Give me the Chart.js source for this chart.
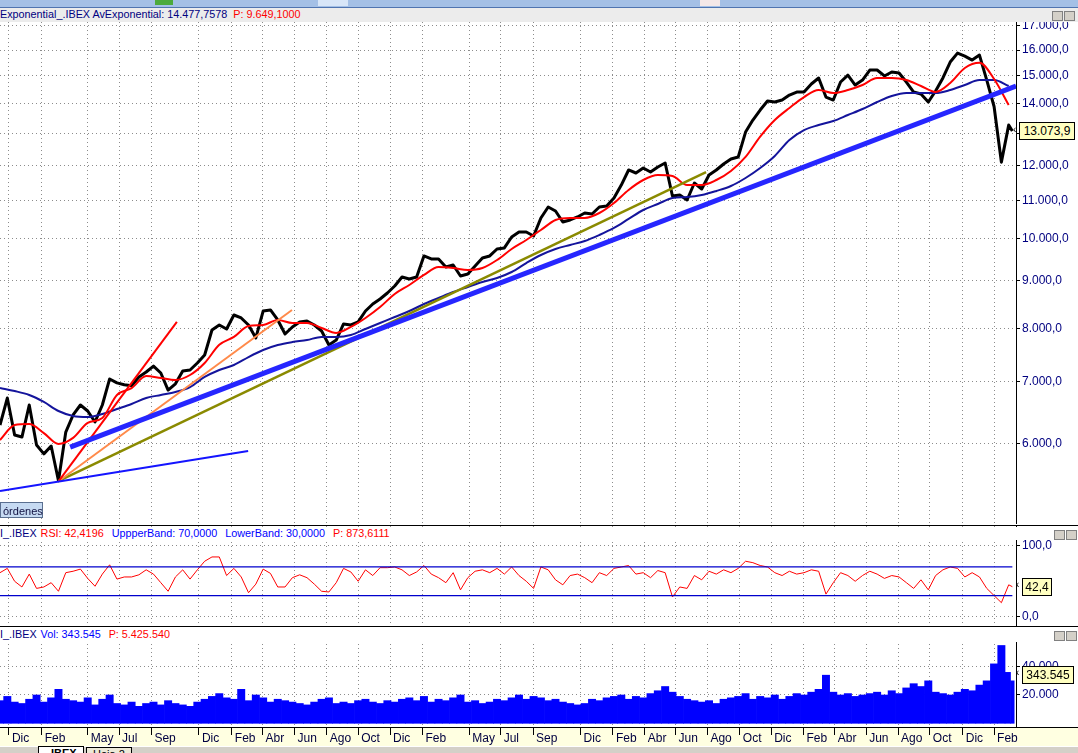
<!DOCTYPE html>
<html>
<head>
<meta charset="utf-8">
<script src="https://cdn.jsdelivr.net/npm/chart.js@4.4.1/dist/chart.umd.min.js"></script>
<style>
  body { margin: 0; width: 1078px; height: 753px; overflow: hidden; background: #fff; position: relative;
         font-family: "Liberation Sans", Arial, sans-serif; }
  .abs { position: absolute; }
  canvas { position: absolute; left: 0; }
  .hdr { position: absolute; left: 0; width: 1078px; font-size: 10.8px; white-space: nowrap; line-height: 13px; }
  .hdr span { margin-right: 6px; }
  .navy { color: #000080; } .red { color: #ff0000; } .blue { color: #0000ff; }
  .badge { position: absolute; background: #ffffc0; border: 1px solid #000; font-size: 12px; color: #000;
           text-align: center; height: 16px; line-height: 16px; }
  .arrow { position: absolute; font-size: 10px; color: #000; }
  .winbtn { position: absolute; width: 9px; height: 8px; background: #d4d0c8; border: 1px solid #808080; }
</style>
</head>
<body>
<div class="abs" style="left:0;top:0;width:1078px;height:7px;background:#a4c0e6;border-bottom:1px solid #4f74b0"></div>
<div class="abs" style="left:155px;top:0;width:18px;height:5px;background:#4caa3c"></div>
<div class="abs" style="left:318px;top:0;width:30px;height:6px;background:#d8e6f8"></div>
<div class="abs" style="left:700px;top:0;width:20px;height:6px;background:#f4e8e8"></div>
<div class="hdr" style="top:8px;height:14px;background:#ececec">
  <span class="navy">Exponential_.IBEX AvExponential: 14.477,7578</span><span class="red">P: 9.649,1000</span>
</div>
<div class="winbtn" style="left:1052px;top:11px"></div><div class="winbtn" style="left:1064px;top:11px"></div>

<canvas id="price" width="1078" height="502" style="top:22px"></canvas>
<div class="abs" style="left:0;top:525px;width:1078px;height:1px;background:#000"></div>

<canvas id="rsi" width="1078" height="100" style="top:526px"></canvas>
<div class="hdr" style="top:527px;height:13px;background:#fff">
  <span class="navy" style="margin-right:4px">I_.IBEX</span><span class="red" style="margin-right:8px">RSI: 42,4196</span><span class="blue" style="margin-right:8px">UppperBand: 70,0000</span><span class="blue" style="margin-right:8px">LowerBand: 30,0000</span><span class="red">P: 873,6111</span>
</div>
<div class="winbtn" style="left:1054px;top:530px"></div><div class="winbtn" style="left:1066px;top:530px"></div>
<div class="abs" style="left:0;top:626px;width:1078px;height:1px;background:#000"></div>

<div class="abs" style="left:0;top:727px;width:1078px;height:19px;background:#ffffe1;border-top:1px solid #000;box-sizing:border-box"></div>
<canvas id="vol" width="1078" height="118" style="top:628px"></canvas>
<div class="hdr" style="top:628px;height:14px;background:#fff">
  <span class="navy" style="margin-right:4px">I_.IBEX</span><span class="blue" style="margin-right:8px">Vol: 343.545</span><span class="red">P: 5.425.540</span>
</div>
<div class="winbtn" style="left:1054px;top:631px"></div><div class="winbtn" style="left:1066px;top:631px"></div>

<div class="arrow" style="left:1013px;top:124px">&lsaquo;</div>
<div class="badge" style="left:1019px;top:122px;width:54px">13.073,9</div>
<div class="arrow" style="left:1016px;top:579px">&lsaquo;</div>
<div class="badge" style="left:1022px;top:578px;width:28px">42,4</div>
<div class="arrow" style="left:1016px;top:667px">&lsaquo;</div>
<div class="badge" style="left:1022px;top:666px;width:50px">343.545</div>

<div class="abs" style="left:0;top:746px;width:1078px;height:7px;background:#d4d0c8;border-top:1px solid #fff"></div>
<div class="abs" style="left:38px;top:746px;width:46px;height:7px;background:#fff;border:1px solid #000;border-bottom:none;font:bold 11px 'Liberation Sans',Arial;line-height:13px;overflow:hidden;padding-left:12px;box-sizing:border-box">IBEX</div>
<div class="abs" style="left:86px;top:747px;width:46px;height:6px;background:#ece9d8;border:1px solid #000;border-bottom:none;font:11px 'Liberation Sans',Arial;line-height:12px;overflow:hidden;padding-left:6px;box-sizing:border-box">Hoja 2</div>
<div class="abs" style="left:0;top:502px;width:43px;height:16px;background:#c6daf2;border:1px solid #5a6f90;font-size:11px;line-height:16px;color:#101040;padding-left:2px;box-sizing:border-box">órdenes</div>

<script>
// week 0 = 15 Nov 2002, one unit = one week
const START = Date.parse('2002-11-15');
const X_MAX = 278;

const tickLabels = ['Dic','Feb','May','Jul','Sep','Dic','Feb','Abr','Jun','Ago','Oct','Dic','Feb','May','Jul',
  'Sep','Dic','Feb','Abr','Jun','Ago','Oct','Dic','Feb','Abr','Jun','Ago','Oct','Dic','Feb'];
const tickDates = ['2002-12-02','2003-02-03','2003-05-02','2003-07-01','2003-09-01','2003-12-01','2004-02-02',
  '2004-04-01','2004-06-01','2004-08-02','2004-10-01','2004-12-01','2005-02-01','2005-05-02','2005-07-01',
  '2005-09-01','2005-12-01','2006-02-01','2006-04-03','2006-06-01','2006-08-01','2006-10-02','2006-12-01',
  '2007-02-01','2007-04-02','2007-06-01','2007-08-01','2007-10-01','2007-12-03','2008-02-01'];

const priceTicks = [6000,7000,8000,9000,10000,11000,12000,13000,14000,15000,16000,17000];
const rsiTicks = [0, 100];
const volTicks = [20000, 40000, 60000];

// IBEX close, every two weeks (last value = last session)
const close = [6286,6723,6131,6100,6607,5980,5850,5965,5470,6176,
  6445,6607,6509,6333,6607,7050,6982,6950,6933,7085,
  7173,7280,7155,6858,6965,7190,7209,7336,7483,7965,
  8065,7985,8268,8207,8065,7808,8350,8372,8166,7885,
  8025,8126,8146,8065,7945,7672,7768,8085,8065,8126,
  8350,8497,8604,8733,8887,9089,9044,9089,9578,9506,
  9506,9318,9364,9112,9158,9341,9530,9578,9746,9771,
  10042,10166,10166,10067,10529,10821,10713,10423,10476,10555,
  10660,10634,10821,10848,11066,11429,11866,11777,11925,11806,
  11955,12074,11121,11148,11011,11487,11317,11718,11866,12045,
  12196,12258,13042,13439,13778,14090,14055,14125,14302,14410,
  14410,14700,14922,14231,14125,14773,15026,14663,14846,15221,
  15221,14998,15146,15108,14773,14410,14338,14055,14445,14922,
  15527,15878,15757,15604,15800,14846,13900,12100,13270,13073.9];

// exponential averages, every four weeks
const emaFast = [6056,6286,6302,6161,5996,6087,6318,6397,6774,6892,
  7103,7067,7032,7120,7336,7676,7829,8045,8065,8166,
  8105,8105,8005,7906,8025,8207,8434,8712,8910,9135,
  9318,9295,9249,9295,9482,9746,9967,10218,10476,10529,
  10529,10660,10929,11289,11573,11718,11689,11429,11429,11573,
  11836,12258,12892,13439,13848,14231,14481,14374,14481,14663,
  14922,14922,14846,14627,14410,14736,15299,15500,14884,13950];
const emaSlow = [6892,6841,6774,6657,6509,6429,6413,6461,6541,6623,
  6723,6774,6824,6909,7085,7209,7300,7446,7577,7672,
  7729,7768,7829,7829,7867,7985,8105,8227,8350,8497,
  8626,8755,8865,8976,9067,9203,9411,9601,9746,9845,
  9942,10092,10270,10503,10740,10902,11066,11093,11148,11261,
  11401,11631,11925,12289,12786,13108,13272,13405,13607,13813,
  14055,14267,14374,14374,14374,14481,14663,14846,14846,14627];

// drawn trend lines: [week, value] end points
const trendThick = [[19.2, 5950], [278, 14627]];
const trendBase = [[0, 5333], [67.9, 5892]];
const trendOlive = [[16.1, 5468], [193.2, 11806]];
const trendOrange = [[16.1, 5468], [79.9, 8372]];
const trendRed = [[16.1, 5468], [48.4, 8126]];

// RSI, every two weeks
const rsi = [62,68,50,42,60,40,42,48,36,62,
  64,67,54,43,60,73,53,56,56,59,
  66,60,48,36,56,66,53,66,78,84,
  84,58,68,56,34,46,67,61,42,42,
  55,59,55,46,36,35,48,68,63,50,
  66,58,69,69,70,66,58,63,72,60,
  55,48,62,38,55,64,66,62,68,60,
  70,58,50,40,70,66,52,45,58,60,
  55,48,62,58,68,70,72,60,62,55,
  65,62,28,42,40,58,52,64,60,66,
  62,68,78,76,72,70,62,58,64,60,
  62,66,64,32,48,62,58,50,58,64,
  60,54,58,56,48,40,52,38,58,66,
  70,68,56,62,56,40,30,20,45,42.4];
const bandWeeks = [0, 277];
const upperBand = [70, 70];
const lowerBand = [30, 30];

// volume, every two weeks
const volume = [16000,19000,15000,14000,17000,20000,15000,18000,24000,17000,
  16000,15000,18000,13000,17000,20000,14000,13000,15000,12000,
  14000,15000,13000,16000,14000,13000,12000,15000,17000,19000,
  21000,18000,17000,24000,16000,20000,18000,15000,17000,16000,
  15000,14000,13000,15000,17000,18000,14000,15000,14000,16000,
  17000,15000,14000,16000,15000,17000,18000,16000,19000,15000,
  17000,16000,18000,20000,15000,16000,14000,15000,17000,16000,
  18000,20000,17000,19000,18000,16000,17000,15000,14000,13000,
  14000,17000,16000,18000,19000,20000,17000,19000,18000,21000,
  23000,26000,22000,19000,17000,16000,15000,16000,14000,17000,
  18000,19000,21000,17000,19000,18000,20000,17000,19000,21000,
  20000,22000,24000,34000,22000,20000,21000,19000,20000,21000,
  22000,20000,23000,21000,25000,28000,26000,30000,22000,21000,
  20000,22000,24000,23000,27000,30000,42000,55000,36000,30000];

const toWeek = d => (Date.parse(d) - START) / 604800000;
const tickWeeks = tickDates.map(toWeek);
const twoWeekly = close.map((_, i) => i < close.length - 1 ? i * 2 : 277);
const fourWeekly = emaFast.map((_, i) => i * 4);
const pts = (xs, ys) => ys.map((y, i) => ({ x: xs[i], y }));
const seg = p => p.map(([x, y]) => ({ x, y }));

function fmtNum(v, dec) {
  const parts = v.toFixed(dec).split('.');
  const s = parts[0].replace(/\B(?=(\d{3})+(?!\d))/g, '.');
  return parts[1] ? s + ',' + parts[1] : s;
}

const FONT = { family: "'Liberation Sans', Arial, sans-serif", size: 12 };
const GRID = '#8c8c8c';

const base = {
  responsive: false, animation: false, devicePixelRatio: 1,
  layout: { padding: 0 },
  plugins: { legend: { display: false }, tooltip: { enabled: false } },
  elements: { point: { radius: 0 }, line: { tension: 0, borderJoinStyle: 'round' } }
};

function xAxis(labels) {
  return {
    type: 'linear', min: 0, max: X_MAX, position: 'bottom', offset: false,
    afterBuildTicks: s => { s.ticks = tickWeeks.map(v => ({ value: v })); },
    ticks: labels
      ? { display: true, autoSkip: false, maxRotation: 0, minRotation: 0, align: 'start', labelOffset: 3,
          padding: -4, color: '#000040', font: FONT, callback: (v, i) => tickLabels[i] }
      : { display: false },
    grid: { offset: false, color: GRID, drawTicks: labels, tickLength: 8, tickColor: '#000', tickBorderDash: [] },
    border: { display: false, dash: [1, 3] },
    afterFit: s => { s.height = labels ? 19 : 0; s.paddingLeft = 0; s.paddingRight = 0; }
  };
}

function yAxis(extra) {
  return Object.assign({
    position: 'right',
    ticks: { color: '#000080', font: FONT, padding: 2, autoSkip: false },
    grid: { color: GRID, tickLength: 4, tickColor: '#000', tickBorderDash: [] },
    border: { display: true, color: '#000', width: 1, dash: [1, 3] },
    afterFit: s => { s.width = 62; s.paddingTop = 0; s.paddingBottom = 0; }
  }, extra);
}

const line = (data, color, width) => ({ data, borderColor: color, borderWidth: width, fill: false });

new Chart(document.getElementById('price'), {
  type: 'line',
  data: {
    datasets: [
      line(seg(trendThick), '#2626ff', 5),
      line(seg(trendBase), '#1414ff', 2),
      line(seg(trendRed), '#ff0000', 2),
      line(seg(trendOrange), '#ff8a4a', 2),
      line(seg(trendOlive), '#8a8a00', 2.5),
      Object.assign(line(pts(fourWeekly, emaFast), '#ff0000', 2), { cubicInterpolationMode: 'monotone' }),
      Object.assign(line(pts(fourWeekly, emaSlow), '#14149c', 2), { cubicInterpolationMode: 'monotone' }),
      line(pts(twoWeekly, close), '#000000', 3)
    ]
  },
  options: Object.assign({}, base, {
    scales: {
      x: xAxis(false),
      y: yAxis({
        type: 'logarithmic', min: 4912, max: 17156,
        afterBuildTicks: s => { s.ticks = priceTicks.map(v => ({ value: v })); },
        ticks: { color: '#000080', font: FONT, padding: 2, autoSkip: false, callback: v => fmtNum(v, 1) }
      })
    }
  })
});

new Chart(document.getElementById('rsi'), {
  type: 'line',
  data: {
    datasets: [
      line(pts(bandWeeks, upperBand), '#0000cc', 1.3),
      line(pts(bandWeeks, lowerBand), '#0000cc', 1.3),
      line(pts(twoWeekly, rsi), '#ff0000', 1)
    ]
  },
  options: Object.assign({}, base, {
    scales: {
      x: xAxis(false),
      y: yAxis({
        type: 'linear', min: -12.6, max: 127.3,
        afterBuildTicks: s => { s.ticks = rsiTicks.map(v => ({ value: v })); },
        ticks: { color: '#000080', font: FONT, padding: 2, autoSkip: false, callback: v => fmtNum(v, 1) }
      })
    }
  })
});

new Chart(document.getElementById('vol'), {
  type: 'bar',
  data: {
    datasets: [{
      data: pts(twoWeekly, volume), backgroundColor: '#0000ff', borderWidth: 0,
      barThickness: 'flex', barPercentage: 1, categoryPercentage: 1
    }]
  },
  options: Object.assign({}, base, {
    scales: {
      x: xAxis(true),
      y: yAxis({
        type: 'linear', min: -2615, max: 67350,
        afterBuildTicks: s => { s.ticks = volTicks.map(v => ({ value: v })); },
        ticks: { color: '#000080', font: FONT, padding: 2, autoSkip: false, callback: v => fmtNum(v, 0) }
      })
    }
  })
});
</script>
</body>
</html>
